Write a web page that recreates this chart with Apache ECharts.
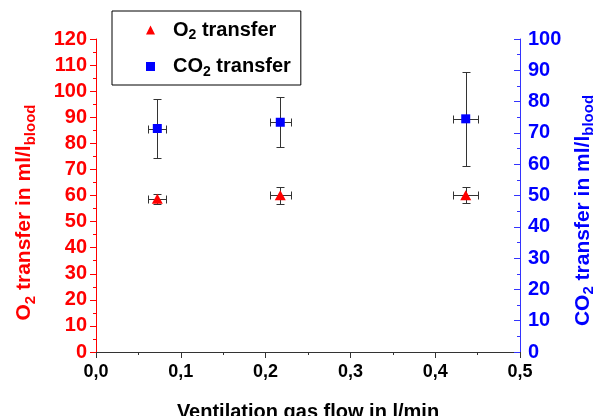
<!DOCTYPE html>
<html>
<head>
<meta charset="utf-8">
<script src="https://cdn.jsdelivr.net/npm/echarts@6/dist/echarts.min.js"></script>
<style>
html,body{margin:0;padding:0;background:#fff;overflow:hidden;}
#chart{width:593px;height:416px;}
</style>
</head>
<body>
<div id="chart"></div>
<script>
// ---- data ----
const flowX = [0.0723, 0.2173, 0.436];      // ventilation gas flow (l/min)
const flowErr = [0.0106, 0.0126, 0.0147];   // x error
const o2Vals = [58.8, 60.1, 60.1];          // O2 transfer (ml/l blood), left axis
const o2Err = [1.9, 3.2, 3.1];
const co2Vals = [71.4, 73.4, 74.5];         // CO2 transfer (ml/l blood), right axis
const co2Err = [9.4, 8.0, 15.0];
const seriesNames = ['O2 transfer', 'CO2 transfer'];

const FONT = '"Liberation Sans", Arial, sans-serif';
const RED = '#ff0000', BLUE = '#0000ff', DARK = '#333333';

function pts(vals, errs) {
  return flowX.map((x, i) => [x, vals[i], flowErr[i], errs[i]]);
}

function errRender(params, api) {
  const x = api.value(0), y = api.value(1), dx = api.value(2), dy = api.value(3);
  const c = api.coord([x, y]);
  const t = api.coord([x, y + dy]);
  const b = api.coord([x, y - dy]);
  const l = api.coord([x - dx, y]);
  const r = api.coord([x + dx, y]);
  const cx = Math.round(c[0]) + 0.5, cy = Math.round(c[1]) + 0.5;
  const cap = 4;
  const st = {stroke: DARK, lineWidth: 1};
  const ln = (x1, y1, x2, y2) => ({type: 'line', shape: {x1, y1, x2, y2}, style: st});
  const ty = Math.round(t[1]) + 0.5, by = Math.round(b[1]) + 0.5;
  const lx = Math.round(l[0]) + 0.5, rx = Math.round(r[0]) + 0.5;
  return {
    type: 'group',
    children: [
      ln(cx, ty, cx, by),
      ln(cx - cap, ty, cx + cap, ty),
      ln(cx - cap, by, cx + cap, by),
      ln(lx, cy, rx, cy),
      ln(lx, cy - cap, lx, cy + cap),
      ln(rx, cy - cap, rx, cy + cap)
    ]
  };
}

const subRich = (color, size, subSize) => ({
  sub: {fontSize: subSize, fontWeight: 'bold', fontFamily: FONT, color: color, padding: [Math.round(size * 0.55), 0, 0, 0]}
});

const chart = echarts.init(document.getElementById('chart'), null, {renderer: 'canvas'});
chart.setOption({
  animation: false,
  backgroundColor: '#fff',
  grid: {left: 96, right: 73, top: 39, bottom: 64, containLabel: false, outerBoundsMode: 'none'},
  legend: {
    orient: 'vertical',
    left: 112, top: 11,
    padding: [9, 10, 6, 34],
    itemGap: 14,
    itemWidth: 9, itemHeight: 9,
    borderColor: '#000', borderWidth: 1,
    selectedMode: false,
    data: [
      {name: seriesNames[0], icon: 'triangle'},
      {name: seriesNames[1], icon: 'rect'}
    ],
    formatter: n => n.replace('O2', 'O{sub|2}'),
    textStyle: {
      fontSize: 20, fontWeight: 'bold', fontFamily: FONT, color: '#000',
      padding: [0, 0, 0, 13],
      rich: subRich('#000', 20, 14)
    }
  },
  xAxis: {
    type: 'value', min: 0, max: 0.5, interval: 0.1,
    name: 'Ventilation gas flow in l/min',
    nameLocation: 'middle', nameGap: 50,
    nameTextStyle: {fontSize: 20, fontWeight: 'bold', fontFamily: FONT, color: '#000'},
    axisLine: {show: true, onZero: false, lineStyle: {color: DARK, width: 1}},
    axisTick: {show: true, length: 6, inside: false, lineStyle: {color: DARK}},
    minorTick: {show: true, splitNumber: 2, length: 3, lineStyle: {color: DARK}},
    splitLine: {show: false},
    axisLabel: {
      margin: 11, fontSize: 18, fontWeight: 'bold', fontFamily: FONT, color: '#000',
      formatter: v => v.toFixed(1).replace('.', ',')
    }
  },
  yAxis: [
    {
      type: 'value', min: 0, max: 120, interval: 10, position: 'left',
      name: 'O{sub|2} transfer in ml/l{sub|blood}',
      nameLocation: 'middle', nameGap: 58, nameRotate: 90,
      nameTextStyle: {fontSize: 21, fontWeight: 'bold', fontFamily: FONT, color: RED,
        padding: [0, 34, 0, 0], rich: subRich(RED, 21, 15)},
      axisLine: {show: true, lineStyle: {color: RED, width: 1}},
      axisTick: {show: true, length: 6, inside: false, lineStyle: {color: RED}},
      minorTick: {show: true, splitNumber: 2, length: 3, lineStyle: {color: RED}},
      splitLine: {show: false},
      axisLabel: {margin: 9, fontSize: 20, fontWeight: 'bold', fontFamily: FONT, color: RED}
    },
    {
      type: 'value', min: 0, max: 100, interval: 10, position: 'right',
      name: 'CO{sub|2} transfer in ml/l{sub|blood}',
      nameLocation: 'middle', nameGap: 46, nameRotate: 90,
      nameTextStyle: {fontSize: 21, fontWeight: 'bold', fontFamily: FONT, color: BLUE,
        padding: [0, 30, 0, 0], rich: subRich(BLUE, 21, 15)},
      axisLine: {show: true, lineStyle: {color: '#3333ff', width: 1}},
      axisTick: {show: true, length: 6, inside: true, lineStyle: {color: '#3333ff'}},
      minorTick: {show: true, splitNumber: 2, length: 3, lineStyle: {color: '#3333ff'}},
      splitLine: {show: false},
      axisLabel: {margin: 8, fontSize: 20, fontWeight: 'bold', fontFamily: FONT, color: BLUE}
    }
  ],
  series: [
    {type: 'custom', name: 'o2err', renderItem: errRender, yAxisIndex: 0, data: pts(o2Vals, o2Err), z: 1, silent: true,
     encode: {x: 0, y: 1}},
    {type: 'custom', name: 'co2err', renderItem: errRender, yAxisIndex: 1, data: pts(co2Vals, co2Err), z: 1, silent: true,
     encode: {x: 0, y: 1}},
    {type: 'scatter', name: seriesNames[0], yAxisIndex: 0, symbol: 'triangle', symbolSize: [11, 10],
     itemStyle: {color: RED, opacity: 1}, data: flowX.map((x, i) => [x, o2Vals[i]]), z: 5},
    {type: 'scatter', name: seriesNames[1], yAxisIndex: 1, symbol: 'rect', symbolSize: 9,
     itemStyle: {color: BLUE, opacity: 1}, data: flowX.map((x, i) => [x, co2Vals[i]]), z: 5}
  ]
});
</script>
</body>
</html>
